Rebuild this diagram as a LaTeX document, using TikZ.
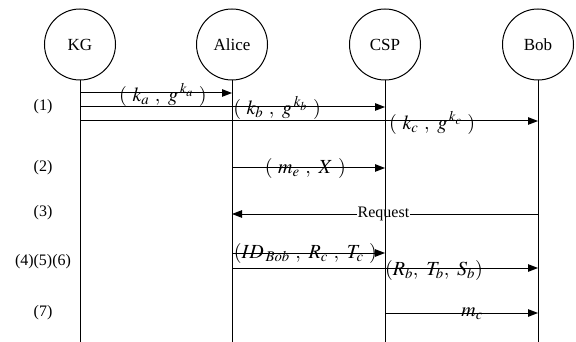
\documentclass[tikz,border=0pt]{standalone}
\usepackage{mathptmx}
\usepackage[no-math]{fontspec}
\setmainfont{Liberation Serif}
\usetikzlibrary{arrows.meta}
\newcommand\gp{\mkern5mu}

\begin{document}
\begin{tikzpicture}[x=1pt,y=-1pt,line width=1pt,
  party/.style={draw,circle,minimum size=71pt,inner sep=0pt,font=\fontsize{17}{19}\selectfont},
  msg/.style={-{Triangle[length=10pt,width=7.5pt]}},
  arg/.style={font=\fontsize{20}{22}\selectfont,inner sep=0pt},
  rowlbl/.style={font=\fontsize{16}{18}\selectfont}]
 \useasboundingbox (0,0) rectangle (576,342);
 % parties
 \node[party] (kg) at (80,44.5) {KG};
 \node[party] (alice) at (232,44.5) {Alice};
 \node[party] (csp) at (385,44.5) {CSP};
 \node[party] (bob) at (538,44.5) {Bob};
 % rows
 \coordinate (r1) at (0,93);
 \coordinate (r2) at (0,107);
 \coordinate (r3) at (0,121);
 \coordinate (r4) at (0,168);
 \coordinate (r5) at (0,214);
 \coordinate (r6) at (0,253);
 \coordinate (r7) at (0,268);
 \coordinate (r8) at (0,313);
 \coordinate (bottom) at (0,342);
 % messages
 \draw[msg] (kg |- r1) -- (alice |- r1)
   node[arg,pos=0.546,yshift=-2pt] {$(\gp k_{a}\gp,\gp g^{\,k_{a}}\gp)$};
 \draw[msg] (kg |- r2) -- (csp |- r2)
   node[arg,pos=0.646,yshift=-1pt] {$(\gp k_{b}\gp,\gp g^{\,k_{b}}\gp)$};
 \draw[msg] (kg |- r3) -- (bob |- r3)
   node[arg,pos=0.769,yshift=-2pt] {$(\gp k_{c}\gp,\gp g^{\,k_{c}}\gp)$};
 \draw[msg] (alice |- r4) -- (csp |- r4)
   node[arg,pos=0.48,yshift=-1pt] {$(\gp m_{e}\gp,\gp X\gp)$};
 \draw[msg] (bob |- r5) -- (alice |- r5)
   node[rowlbl,pos=0.505,fill=white,inner sep=0.5pt] {Request};
 \draw[msg] (alice |- r6) -- (csp |- r6)
   node[arg,pos=0.48] {$(ID_{\,Bob}\gp,\gp R_{c}\gp,\gp T_{c}\gp)$};
 \draw[msg] (alice |- r7) -- (bob |- r7)
   node[arg,pos=0.66,yshift=-2pt] {$(R_{b},\gp T_{b},\gp S_{b})$};
 \draw[msg] (csp |- r8) -- (bob |- r8)
   node[arg,pos=0.57,yshift=-1pt] {$m_{c}$};
 % lifelines
 \foreach \p in {kg,alice,csp,bob}
   \draw (\p.south) -- (\p |- bottom);
 % step numbers
 \node[rowlbl] (s1) at (43,107) {(1)};
 \node[rowlbl] (s2) at (43,168) {(2)};
 \node[rowlbl] (s3) at (43,213) {(3)};
 \node[rowlbl] (s4) at (43,262) {(4)(5)(6)};
 \node[rowlbl] (s7) at (43,313) {(7)};
\end{tikzpicture}
\end{document}
